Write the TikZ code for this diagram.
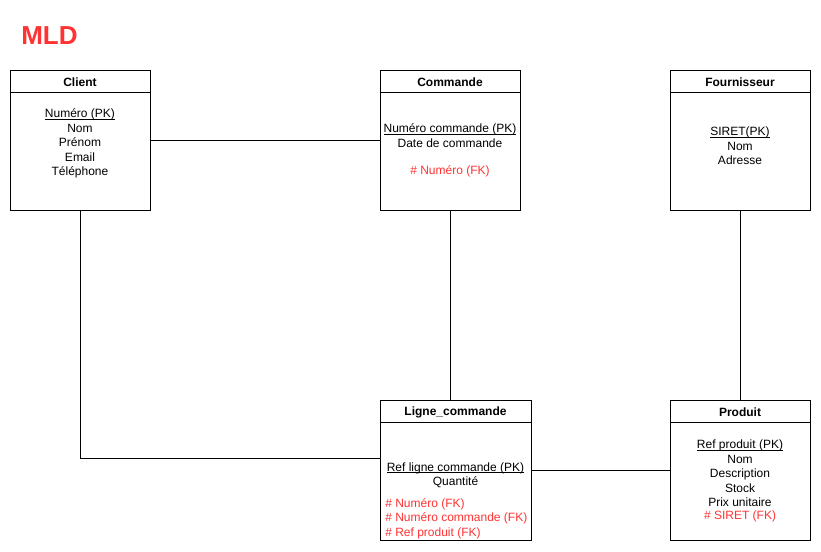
\documentclass[tikz,border=0pt]{standalone}
\usepackage{fontspec}
\setmainfont{Liberation Sans}
\definecolor{fkred}{HTML}{FF3333}
\newcommand{\pkline}[1]{\setbox0\hbox{#1}\rlap{\rule[-1.3pt]{\wd0}{0.6pt}}\box0}
\begin{document}
\begin{tikzpicture}[x=0.75pt,y=-0.75pt,
  box/.style={draw=black,line width=0.75pt,fill=white,minimum height=105pt,inner sep=0pt},
  ttl/.style={font=\fontsize{9}{11}\selectfont\bfseries},
  body/.style={font=\fontsize{9}{10.9}\selectfont,align=center,inner sep=0pt},
  fk/.style={font=\fontsize{9}{10.9}\selectfont,text=fkred,align=left,inner sep=0pt},
  conn/.style={draw=black,line width=0.75pt}]
\useasboundingbox[fill=white] (0,0) rectangle (821,551);
\node[font=\fontsize{19.5}{22}\selectfont\bfseries,text=fkred,anchor=west,inner sep=0pt] (mld) at (21,35.5) {MLD};
% boxes
\node[box,minimum width=105pt] (client) at (80,140) {};
\node[box,minimum width=105pt] (commande) at (450,140) {};
\node[box,minimum width=105pt] (fourn) at (740,140) {};
\node[box,minimum width=113.25pt] (ligne) at (455.5,470) {};
\node[box,minimum width=105pt] (produit) at (740,470) {};
% header separators
\draw[conn] ([yshift=-17.25pt]client.north west) -- ([yshift=-17.25pt]client.north east);
\draw[conn] ([yshift=-17.25pt]commande.north west) -- ([yshift=-17.25pt]commande.north east);
\draw[conn] ([yshift=-17.25pt]fourn.north west) -- ([yshift=-17.25pt]fourn.north east);
\draw[conn] ([yshift=-17.25pt]ligne.north west) -- ([yshift=-17.25pt]ligne.north east);
\draw[conn] ([yshift=-17.25pt]produit.north west) -- ([yshift=-17.25pt]produit.north east);
% titles
\node[ttl] (tclient) at (80,82.3) {Client};
\node[ttl] (tcommande) at (450,82.3) {Commande};
\node[ttl] (tfourn) at (740,82.3) {Fournisseur};
\node[ttl] (tligne) at (455.5,412.3) {Ligne\_commande};
\node[ttl] (tproduit) at (740,412.3) {Produit};
% bodies
\node[body] (bclient) at (80,143.5) {\pkline{Numéro (PK)}\\Nom\\Prénom\\Email\\Téléphone};
\node[body] (bcommande) at (450,135.5) {\pkline{Numéro commande (PK)}\\Date de commande};
\node[fk] (fcommande) at (450,171) {\# Numéro (FK)};
\node[body] (bfourn) at (740,146) {\pkline{SIRET(PK)}\\Nom\\Adresse};
\node[body] (bligne) at (455.5,475.5) {\pkline{Ref ligne commande (PK)}\\Quantité};
\node[fk,anchor=west] (fligne) at (385,518.5) {\# Numéro (FK)\\\# Numéro commande (FK)\\\# Ref produit (FK)};
\node[body] (bproduit) at (740,473.5) {\pkline{Ref produit (PK)}\\Nom\\Description\\Stock\\Prix unitaire};
\node[fk] (fproduit) at (740,516.5) {\# SIRET (FK)};
% connectors
\draw[conn] (client.east) -- (commande.west);
\draw[conn] (client.south) |- ([yshift=9pt]ligne.west);
\draw[conn] (commande.south) -- (commande.south |- ligne.north);
\draw[conn] (fourn.south) -- (produit.north);
\draw[conn] (ligne.east) -- (produit.west);
\end{tikzpicture}
\end{document}
